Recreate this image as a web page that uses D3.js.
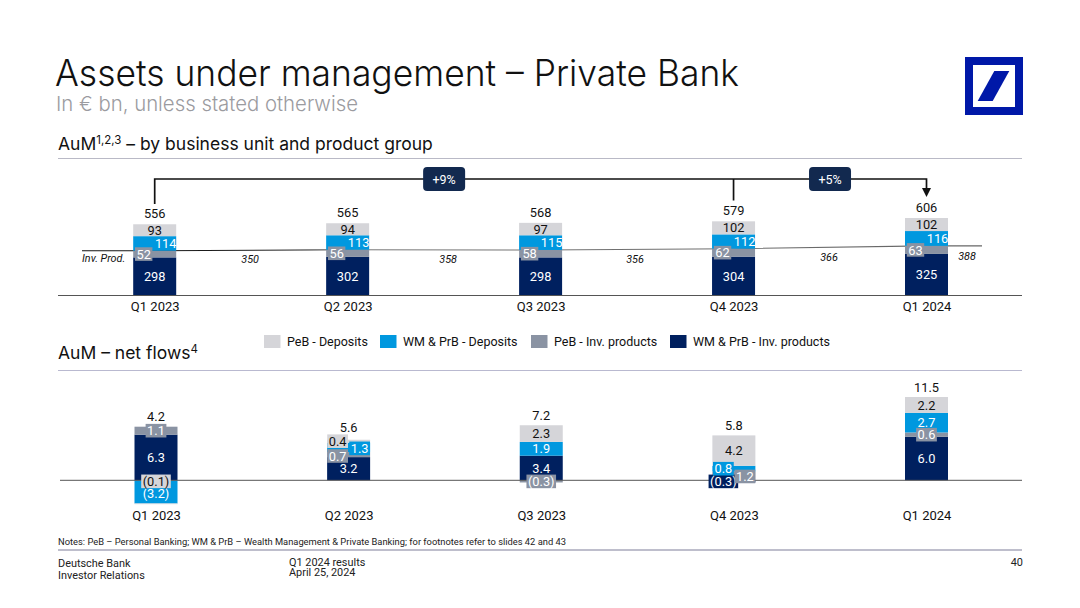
<!DOCTYPE html>
<html><head><meta charset="utf-8">
<script src="https://cdn.jsdelivr.net/npm/d3@7"></script>
<style>
html,body{margin:0;padding:0;background:#fff}
svg{display:block}
text{font-family:Roboto,"Noto Sans",sans-serif;fill:#111}
.head{font-family:Inter,"Noto Sans",sans-serif}
</style></head><body>
<svg id="c" width="1080" height="608"></svg>
<script>
const quarters=["Q1 2023","Q2 2023","Q3 2023","Q4 2023","Q1 2024"];
const seriesNames=["WM & PrB - Inv. products","PeB - Inv. products","WM & PrB - Deposits","PeB - Deposits"];
const aumWmInv=[298,302,298,304,325];
const aumPebInv=[52,56,58,62,63];
const aumWmDep=[114,113,115,112,116];
const aumPebDep=[93,94,97,102,102];
const aumTotals=[556,565,568,579,606];
const invProd=[350,358,356,366,388];
const flowWmInv=[6.3,3.2,3.4,-0.3,6.0];
const flowPebInv=[1.1,0.7,-0.3,1.2,0.6];
const flowWmDep=[-3.2,1.3,1.9,0.8,2.7];
const flowPebDep=[-0.1,0.4,2.3,4.2,2.2];
const flowTotals=[4.2,5.6,7.2,5.8,11.5];
const growthLabels=["+9%","+5%"];

const colors=["#00205f","#8a93a3","#0098df","#d5d5d9"];
const textCol=["#fff","#fff","#fff","#111"];
const svg=d3.select("#c");

function txt(x,y,s,size,o={}){
  const t=svg.append("text").attr("x",x).attr("y",y).attr("font-size",size).text(s);
  if(o.cls)t.attr("class",o.cls);
  if(o.w)t.attr("font-weight",o.w);
  if(o.fill)t.style("fill",o.fill);
  if(o.anchor)t.attr("text-anchor",o.anchor);
  if(o.italic)t.attr("font-style","italic");
  if(o.len)t.attr("textLength",o.len).attr("lengthAdjust","spacingAndGlyphs");
  return t;
}
function rule(y,x0,x1,col,w){svg.append("line").attr("x1",x0).attr("x2",x1).attr("y1",y).attr("y2",y).attr("stroke",col).attr("stroke-width",w);}

// header
txt(55,86,"Assets under management – Private Bank",37,{cls:"head",w:300,len:684});
txt(56,111,"In € bn, unless stated otherwise",20.5,{cls:"head",w:300,fill:"#9b9b9f",len:302});
const h1=txt(58,150,"AuM",17.5,{cls:"head"});
h1.append("tspan").attr("font-size",11.5).attr("dy",-6).text("1,2,3");
h1.append("tspan").attr("dy",6).text(" – by business unit and product group");
const h2=txt(58,359,"AuM – net flows",17.5,{cls:"head"});
h2.append("tspan").attr("font-size",11.5).attr("dy",-6).text("4");
rule(158.5,58,1022,"#b9b9c6",1);
rule(370.5,58,1022,"#b9b9d0",1);

// logo
svg.append("rect").attr("x",965).attr("y",57).attr("width",58).attr("height",58).attr("fill","#0018a8");
svg.append("rect").attr("x",973).attr("y",65).attr("width",42).attr("height",42).attr("fill","#fff");
svg.append("polygon").attr("points","994.3,71 1009.3,71 992.7,101 977.7,101").attr("fill","#0018a8");

// scales
const xTop=d3.scalePoint().domain(quarters).range([154.7,926.5]);
const xBot=d3.scalePoint().domain(quarters).range([156,926.5]);
const yTop=d3.scaleLinear().domain([0,606]).range([295.5,218]);
const yBot=d3.scaleLinear().domain([0,11.5]).range([480.3,397]);
const barW=43;

function stacks(arrs){
  return quarters.map((q,i)=>{
    let pos=0,neg=0;
    return arrs.map((a,s)=>{
      const v=a[i];let y0,y1;
      if(v>=0){y0=pos;y1=pos+=v;}else{y0=neg;y1=neg+=v;}
      return {q,i,s,v,y0,y1};
    });
  });
}
function drawBars(cols,x,y){
  cols.forEach(col=>{
    svg.selectAll(null).data(col).enter().append("rect")
      .attr("x",d=>x(d.q)-barW/2).attr("width",barW)
      .attr("y",d=>Math.min(y(d.y0),y(d.y1)))
      .attr("height",d=>Math.abs(y(d.y0)-y(d.y1)))
      .attr("fill",d=>colors[d.s]);
  });
}
function drawLabels(cols,x,y,fmt,nudge,boxed){
  cols.flat().forEach(d=>{
    const key=d.i+"-"+d.s, n=nudge[key]||[0,0];
    const cx=x(d.q)+n[0], cy=(y(d.y0)+y(d.y1))/2+n[1];
    const g=svg.append("g");
    const t=g.append("text").attr("x",cx).attr("y",cy).attr("dy","0.36em")
      .attr("text-anchor","middle").attr("font-size",12.8).style("fill",textCol[d.s]).text(fmt(d.v));
    if(boxed.includes(key)){
      const b=t.node().getBBox();
      g.insert("rect","text").attr("x",b.x-1.5).attr("width",b.width+3)
        .attr("y",cy-6.8).attr("height",13.6).attr("fill",colors[d.s]);
    }
  });
}
function baseline(x,y0,x0,x1,labelY){
  const g=svg.append("g").attr("transform",`translate(0,${y0})`)
    .call(d3.axisBottom(x).tickSize(0).tickPadding(0));
  g.select(".domain").remove();
  g.selectAll("text").attr("y",labelY).attr("dy","0.36em").attr("font-size",13).attr("font-family",null).style("fill","#111");
  svg.append("line").attr("x1",x0).attr("x2",x1).attr("y1",y0).attr("y2",y0).attr("stroke","#555").attr("stroke-width",1);
}

// top chart
const topCols=stacks([aumWmInv,aumPebInv,aumWmDep,aumPebDep]);
const lineData=[[82,invProd[0]]].concat(quarters.map((q,i)=>[xTop(q),invProd[i]]),[[982,invProd[4]]]);
const grad=svg.append("defs").append("linearGradient").attr("id","lg").attr("gradientUnits","userSpaceOnUse")
  .attr("x1",82).attr("x2",982).attr("y1",0).attr("y2",0);
grad.append("stop").attr("offset","0").attr("stop-color","#111");
grad.append("stop").attr("offset","0.25").attr("stop-color","#222");
grad.append("stop").attr("offset","0.32").attr("stop-color","#777");
grad.append("stop").attr("offset","1").attr("stop-color","#666");
svg.append("path").attr("d",d3.line().x(d=>d[0]).y(d=>yTop(d[1]))(lineData)).attr("fill","none").attr("stroke","url(#lg)").attr("stroke-width",1.1);
drawBars(topCols,xTop,yTop);
baseline(xTop,295.5,58,1022,11);
const topNudge={};const topBox=[];
quarters.forEach((q,i)=>{topNudge[i+"-1"]=[-11,0];topNudge[i+"-2"]=[11,0];topBox.push(i+"-1");});
drawLabels(topCols,xTop,yTop,d=>d3.format("d")(d),topNudge,topBox);
quarters.forEach((q,i)=>{
  txt(xTop(q),yTop(d3.sum([aumWmInv,aumPebInv,aumWmDep,aumPebDep],a=>a[i]))-10.5,aumTotals[i],12.8,{anchor:"middle"}).attr("dy","0.36em");
});
// inv prod labels
txt(82,262,"Inv. Prod.",10.8,{italic:true});
const midX=[0,1,2,3,4].map(i=>i<4?(xTop(quarters[i])+xTop(quarters[i+1]))/2:967);
const invDx=[-1,4,-2,-1,0], invDy=[8.5,9,9,8.5,10.5];
invProd.forEach((v,i)=>{
  txt(midX[i]+invDx[i],yTop(v)+invDy[i],v,10.8,{italic:true,anchor:"middle"}).attr("dy","0.36em");
});

// growth bracket
const bracketY=179;
const bx0=xTop(quarters[0]),bx1=xTop(quarters[3]),bx2=xTop(quarters[4]);
svg.append("path").attr("d",`M${bx0},204V${bracketY}H${bx2}V190`).attr("fill","none").attr("stroke","#111").attr("stroke-width",1.7);
svg.append("path").attr("d",`M${bx1},${bracketY}V200.5`).attr("fill","none").attr("stroke","#111").attr("stroke-width",1.7);
svg.append("path").attr("d",d3.line()([[bx2-4.5,188],[bx2+4.5,188],[bx2,197]])+"Z").attr("fill","#111");
[[(xTop(quarters[1])+xTop(quarters[2]))/2,0],[(xTop(quarters[3])+xTop(quarters[4]))/2,1]].forEach(([cx,i])=>{
  svg.append("rect").attr("x",cx-21).attr("y",167).attr("width",42).attr("height",24).attr("rx",4).attr("fill","#12294f");
  txt(cx,179,growthLabels[i],12.5,{anchor:"middle",fill:"#fff"}).attr("dy","0.36em");
});

// legend
const legendOrder=[3,2,1,0], legendX=[264,380,531,670];
legendOrder.forEach((s,i)=>{
  svg.append("rect").attr("x",legendX[i]).attr("y",335).attr("width",16.5).attr("height",13).attr("fill",colors[s]);
  txt(legendX[i]+23,341.5,seriesNames[s],12.5).attr("dy","0.36em");
});

// bottom chart
const botCols=stacks([flowWmInv,flowPebInv,flowWmDep,flowPebDep]);
drawBars(botCols,xBot,yBot);
baseline(xBot,480.3,60,1022,34.7);
const botNudge={"0-2":[0,1.5],"0-3":[0,-22.5],"1-1":[-11,1.4],"1-2":[11,1],"1-3":[-11,0],"3-0":[-10.5,0],"3-1":[11,0.5],"3-2":[-10.5,0]};
const botBox=["0-1","0-3","1-1","1-2","1-3","2-1","3-0","3-1","3-2","4-1"];
const fmtFlow=v=>v<0?`(${d3.format(".1f")(-v)})`:d3.format(".1f")(v);
drawLabels(botCols,xBot,yBot,fmtFlow,botNudge,botBox);
const totNudge=[0,-2,0,0,0];
quarters.forEach((q,i)=>{
  const top=d3.max(botCols[i],d=>Math.max(d.y0,d.y1));
  txt(xBot(q),yBot(top)-10+totNudge[i],d3.format(".1f")(flowTotals[i]),12.8,{anchor:"middle"}).attr("dy","0.36em");
});

// footer
txt(58,545,"Notes: PeB – Personal Banking; WM & PrB – Wealth Management & Private Banking; for footnotes refer to slides 42 and 43",9.6,{len:508,fill:"#222"});
rule(550,58,1022,"#a9a9bb",1.5);
txt(58,567,"Deutsche Bank",10.9,{fill:"#222"});
txt(58,578.5,"Investor Relations",10.9,{fill:"#222"});
txt(289,565.5,"Q1 2024 results",10.9,{fill:"#222"});
txt(289,576,"April 25, 2024",10.9,{fill:"#222"});
txt(1023,566,"40",10.9,{anchor:"end",fill:"#222"});
</script>
</body></html>
